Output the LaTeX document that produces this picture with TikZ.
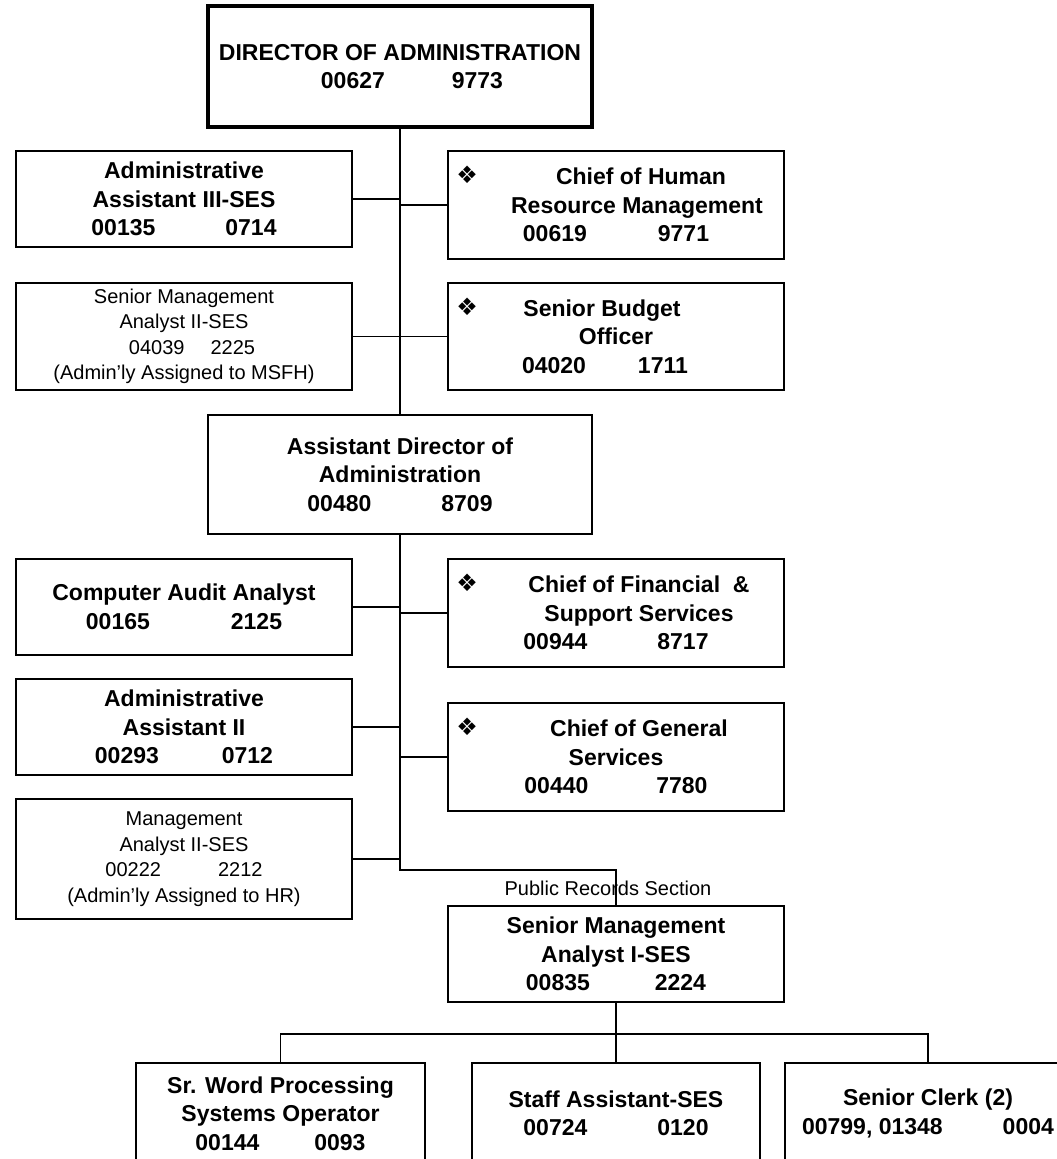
\documentclass[tikz,border=0pt]{standalone}
\usepackage{fontspec}
\setmainfont{Liberation Sans}
\newfontfamily\dingfont{DejaVu Sans}
\begin{document}
\begin{tikzpicture}[x=1pt,y=-1pt,
  post/.style={draw=black,line width=1.8pt,inner sep=0pt,align=center,
    minimum width=336pt,font=\fontsize{23}{28.5}\selectfont\bfseries},
  postplain/.style={post,font=\fontsize{20}{25.5}\selectfont},
  link/.style={draw=black,line width=1.8pt},
  bullet/.style={inner sep=0pt,font=\dingfont\fontsize{24}{24}\selectfont},
  caption/.style={inner sep=0pt,font=\fontsize{20}{24}\selectfont}]
\useasboundingbox (0,0) rectangle (1057,1159);
\fill[white] (0,0) rectangle (1057,1159);
\clip (0,0) rectangle (1057,1159);

% --- top of the chart
\node[post,line width=3.3pt,minimum width=384pt,minimum height=121pt] (dir) at (400,66.5)
  {DIRECTOR OF ADMINISTRATION\\\hspace*{24pt}00627\hspace{67pt}9773};

% --- staff reporting to the director
\node[post,minimum height=96pt] (aa3) at (184,199)
  {Administrative\\Assistant III-SES\\00135\hspace{70pt}0714};
\node[postplain,minimum height=107pt] (sma2) at (184,336.5)
  {Senior Management\\Analyst II-SES\\\hspace*{16pt}04039\hspace{26pt}2225\\(Admin’ly Assigned to MSFH)};
\node[post,minimum height=108pt] (hr) at (616,205)
  {\hspace*{50pt}Chief of Human\\\hspace*{42pt}Resource Management\\00619\hspace{71pt}9771};
\node[post,minimum height=107pt] (sbo) at (616,336.5)
  {Senior Budget\hspace*{28pt}\\Officer\hspace*{38pt}\\04020\hspace{52pt}1711\hspace*{22pt}};
\node[bullet] (hrmark) at ([shift={(20,25)}]hr.north west) {❖};
\node[bullet] (sbomark) at ([shift={(20,25)}]sbo.north west) {❖};

% --- assistant director and staff
\node[post,minimum width=384pt,minimum height=119pt] (ada) at (400,474.5)
  {Assistant Director of\\Administration\\00480\hspace{70pt}8709};
\node[post,minimum height=96pt] (caa) at (184,607)
  {Computer Audit Analyst\\00165\hspace{81pt}2125};
\node[post,minimum height=96pt] (aa2) at (184,727)
  {Administrative\\Assistant II\\00293\hspace{63pt}0712};
\node[postplain,minimum height=120pt] (ma2) at (184,859)
  {Management\\Analyst II-SES\\00222\hspace{57pt}2212\\(Admin’ly Assigned to HR)};
\node[post,minimum height=108pt] (cfs) at (616,613)
  {\hspace*{46pt}Chief of Financial\ \ \&\\\hspace*{46pt}Support Services\\00944\hspace{70pt}8717};
\node[post,minimum height=108pt] (cgs) at (616,757)
  {\hspace*{46pt}Chief of General\\Services\\00440\hspace{68pt}7780};
\node[bullet] (cfsmark) at ([shift={(20,25)}]cfs.north west) {❖};
\node[bullet] (cgsmark) at ([shift={(20,25)}]cgs.north west) {❖};

% --- public records section
\node[caption] (prs) at (608,888) {Public Records Section};
\node[post,minimum height=96pt] (sma1) at (616,954)
  {Senior Management\\Analyst I-SES\\00835\hspace{65pt}2224};
\node[post,minimum width=289pt,minimum height=101pt] (wp) at (280.5,1113.5)
  {Sr. Word Processing\\Systems Operator\\00144\hspace{55pt}0093};
\node[post,minimum width=288pt,minimum height=101pt] (staff) at (616,1113.5)
  {Staff Assistant-SES\\00724\hspace{70pt}0120};
\node[post,minimum width=286pt,minimum height=101pt] (clerk) at (928,1113.5)
  {Senior Clerk (2)\\00799, 01348\hspace{60pt}0004};

% --- reporting lines
\draw[link] (dir.south) -- (ada.north);
\foreach \n in {aa3,sma2}
  \draw[link] (\n.east) -- (\n.east -| dir.south);
\foreach \n in {hr,sbo}
  \draw[link] (\n.west) -- (\n.west -| dir.south);

\coordinate (jog) at (400,870);
\draw[link] (ada.south) -- (jog) -| (sma1.north);
\foreach \n in {caa,aa2,ma2}
  \draw[link] (\n.east) -- (\n.east -| ada.south);
\foreach \n in {cfs,cgs}
  \draw[link] (\n.west) -- (\n.west -| ada.south);

\coordinate (bus) at (616,1034);
\draw[link] (sma1.south) -- (bus);
\draw[link] (wp.north) |- (bus) -| (clerk.north);
\draw[link] (bus) -- (staff.north);
\end{tikzpicture}
\end{document}
